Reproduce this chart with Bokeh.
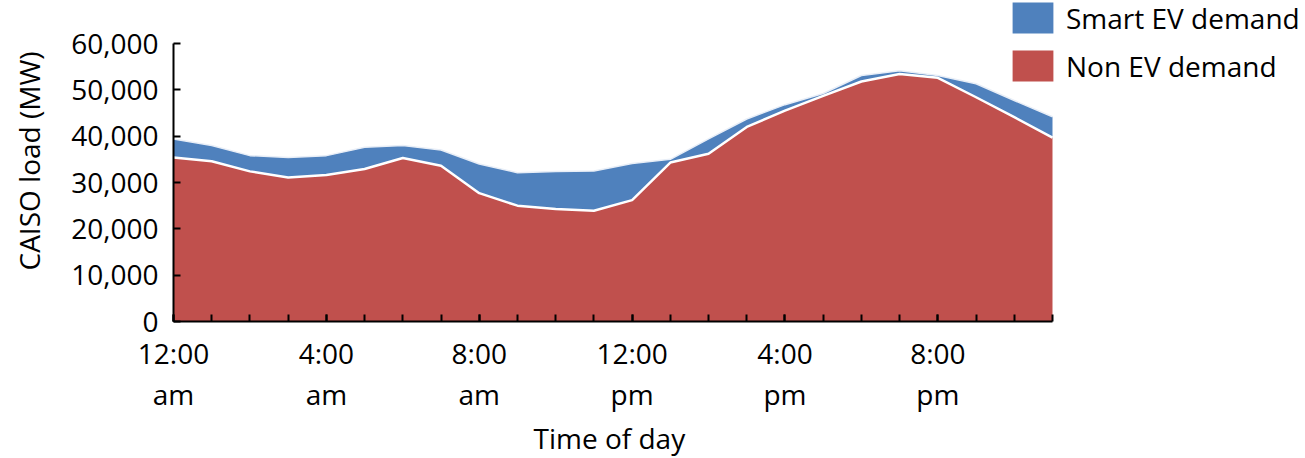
from bokeh.plotting import figure
from bokeh.models import FixedTicker, NumeralTickFormatter, Legend, LegendItem, ColumnDataSource, Title
from bokeh.embed import file_html
from bokeh.resources import INLINE
import numpy as np

hours = list(range(24))
non_ev_demand = [35400, 34600, 32400, 31100, 31600, 32900, 35300, 33600, 27700, 25000, 24300, 23900,
                 26200, 34300, 36200, 42000, 45500, 48700, 51800, 53400, 52600, 48400, 44100, 39700]
smart_ev_demand = [4000, 3400, 3400, 4300, 4200, 4700, 2700, 3400, 6300, 7100, 8100, 8600,
                   7900, 700, 3200, 1700, 1300, 500, 1300, 700, 500, 2900, 3600, 4500]
tick_hours = [0, 4, 8, 12, 16, 20]
tick_labels = ["12:00\nam", "4:00\nam", "8:00\nam", "12:00\npm", "4:00\npm", "8:00\npm"]
y_ticks = [0, 10000, 20000, 30000, 40000, 50000, 60000]

BLUE = "#4F81BD"
RED = "#C0504D"
FONT = "Open Sans"
FS = "28px"

# page geometry (pixels)
W, H = 1305, 458
LEFT, BOTTOM = 173, 137
X_END_PX, Y_TOP_PX = 1052, 43
frame_w = W - LEFT
frame_h = H - BOTTOM
x_max = hours[-1]
y_max = y_ticks[-1]
x_end = x_max * frame_w / (X_END_PX - LEFT)
y_end = y_max * frame_h / (frame_h - Y_TOP_PX)

total = (np.array(non_ev_demand) + np.array(smart_ev_demand)).tolist()
src = ColumnDataSource(dict(hour=hours, non_ev=non_ev_demand, smart_ev=smart_ev_demand, total=total))

p = figure(width=W, height=H, output_backend="svg", toolbar_location=None,
           x_range=(0, x_end), y_range=(0, y_end),
           min_border_left=LEFT, min_border_right=0, min_border_top=0, min_border_bottom=BOTTOM)
p.outline_line_color = None
p.xgrid.visible = False
p.ygrid.visible = False

areas = p.varea_stack(["non_ev", "smart_ev"], x="hour", color=[RED, BLUE], source=src)
p.line("hour", "total", source=src, line_color="#e8eef7", line_width=1.5)
p.line("hour", "non_ev", source=src, line_color="white", line_width=2.5)

# x axis
xa = p.xaxis[0]
xa.ticker = FixedTicker(ticks=tick_hours, minor_ticks=hours)
xa.major_label_overrides = {h: l for h, l in zip(tick_hours, tick_labels)}
xa.major_label_standoff = 12
xa.major_label_text_line_height = 1.1
xa.bounds = (0, x_max)

# y axis
ya = p.yaxis[0]
ya.ticker = FixedTicker(ticks=y_ticks)
ya.formatter = NumeralTickFormatter(format="0,0")
ya.axis_label = "CAISO load (MW)"
ya.major_label_standoff = 15
ya.axis_label_standoff = 20
ya.bounds = (0, y_max)

for ax in (xa, ya):
    ax.axis_line_color = "black"
    ax.axis_line_width = 2
    ax.major_tick_line_color = "black"
    ax.major_tick_line_width = 2
    ax.major_tick_in = 7
    ax.major_tick_out = 0
    ax.minor_tick_line_color = "black"
    ax.minor_tick_line_width = 2
    ax.minor_tick_in = 7
    ax.minor_tick_out = 0
    ax.major_label_text_font = FONT
    ax.major_label_text_font_size = FS
    ax.major_label_text_color = "black"
    ax.axis_label_text_font = FONT
    ax.axis_label_text_font_size = FS
    ax.axis_label_text_font_style = "normal"
    ax.axis_label_text_color = "black"
ya.minor_tick_line_color = None

# x-axis title, centred under the plotted span (0..23) rather than the whole frame
x_title = Title(text="Time of day", align="left", offset=360, standoff=0,
                text_font=FONT, text_font_size=FS, text_font_style="normal", text_color="black")
p.add_layout(x_title, "below")

legend = Legend(items=[LegendItem(label="Smart EV demand", renderers=[areas[1]]),
                       LegendItem(label="Non EV demand", renderers=[areas[0]])],
                location=(834, 236), orientation="vertical",
                glyph_width=51, glyph_height=39, label_height=39, spacing=9,
                label_standoff=8, padding=0, margin=0,
                border_line_color=None, background_fill_alpha=0,
                label_text_font=FONT, label_text_font_size=FS, label_text_color="black")
p.add_layout(legend, "center")

open("out.html", "w").write(file_html(p, INLINE))
